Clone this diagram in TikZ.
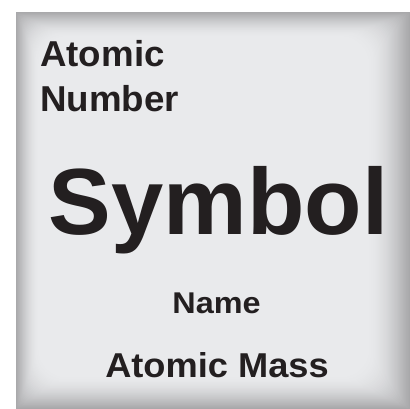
\documentclass[tikz,border=0pt]{standalone}
\usepackage{fontspec}
\setmainfont{Liberation Sans}
\definecolor{bglight}{HTML}{E9EAEC}
\definecolor{bgdark}{HTML}{A8A8AA}
\definecolor{ink}{HTML}{231F20}
\tikzset{
  label text/.style={inner sep=0pt, text=ink, font=\bfseries},
}
\begin{document}
\begin{tikzpicture}[x=1pt,y=-1pt]
\useasboundingbox (0,0) rectangle (410,409);
\fill[white] (0,0) rectangle (410,409);
\fill[bgdark] (16,12) rectangle (410,409);
\foreach \i in {1,...,40}{
  \pgfmathsetmacro{\t}{\i/40}
  \pgfmathsetmacro{\p}{100*sin(90*\t)}
  \pgfmathsetmacro{\r}{0.5+30*\t}
  \colorlet{stepcol}{bglight!\p!bgdark}
  \fill[stepcol, rounded corners=\r pt]
    (16+24*\t, 12+26*\t) rectangle (410-44*\t, 409-34*\t);
}
\node[label text, anchor=base west, font=\bfseries\addfontfeature{FakeStretch=1.02}\fontsize{36}{40}\selectfont] (an1) at (40,67) {Atomic};
\node[label text, anchor=base west, font=\bfseries\addfontfeature{FakeStretch=1.02}\fontsize{36}{40}\selectfont] (an2) at (40,111.5) {Number};
\node[label text, anchor=base west, font=\bfseries\fontsize{94}{100}\selectfont] (sym) at (48.5,235) {Symbol};
\node[label text, anchor=base, font=\bfseries\addfontfeature{FakeStretch=1.08}\fontsize{30}{34}\selectfont] (name) at (216.5,313) {Name};
\node[label text, anchor=base, font=\bfseries\addfontfeature{FakeStretch=1.05}\fontsize{34.5}{38}\selectfont] (mass) at (217,377) {Atomic Mass};
\end{tikzpicture}
\end{document}
